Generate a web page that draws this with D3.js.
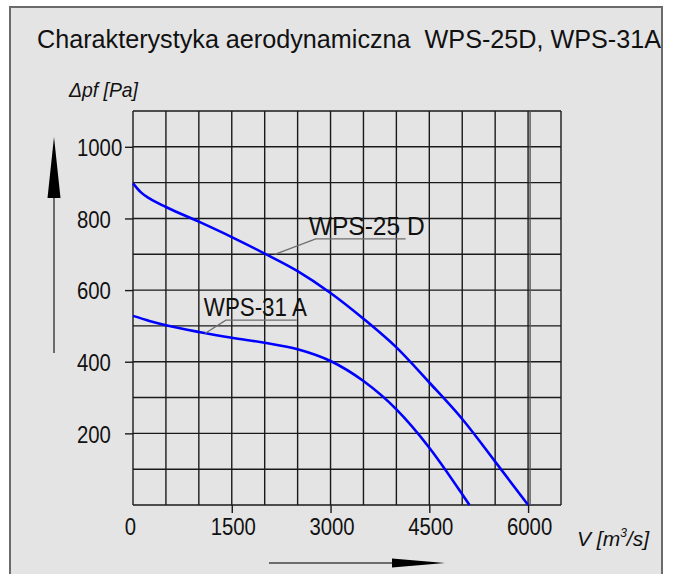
<!DOCTYPE html>
<html>
<head>
<meta charset="utf-8">
<title>Charakterystyka aerodynamiczna</title>
<script src="https://d3js.org/d3.v7.min.js"></script>
<style>
  body { margin: 0; background: #fff; }
  svg text { font-family: "Liberation Sans", Arial, sans-serif; fill: #111; }
</style>
</head>
<body>
<div id="chart"></div>
<script>
// wartosci
const flow25D  = [0, 125, 250, 500, 1000, 1500, 2000, 2500, 3000, 3500, 4000, 4500, 5000, 5500, 6000];
const press25D = [898, 872, 856, 832, 791, 748, 702, 653, 592, 520, 440, 342, 240, 121, 0];
const flow31A  = [0, 250, 500, 1000, 1500, 2000, 2500, 3000, 3500, 4000, 4500, 5000, 5110];
const press31A = [528, 514, 502, 483, 467, 453, 435, 402, 346, 267, 160, 30, 0];

const xTicks = [0, 1500, 3000, 4500, 6000];
const yTicks = [200, 400, 600, 800, 1000];
const curveNames = ["WPS-25 D", "WPS-31 A"];
// odnosniki: punkt na krzywej, zalamanie, koniec podkreslenia (w jednostkach wykresu)
const leader25D = [[2153, 700], [2775, 743], [4140, 743]];
const leader31A = [[1092, 479], [1410, 516], [2487, 516]];

function rysuj() {
  const W = 681, H = 574;
  const svg = d3.select("#chart").append("svg")
      .attr("width", W).attr("height", H);

  // ramka z szarym tlem
  svg.append("rect")
      .attr("x", 10).attr("y", 7)
      .attr("width", 652).attr("height", 620)
      .attr("fill", "#e4e4e4")
      .attr("stroke", "#6b6b6b").attr("stroke-width", 2);

  const x = d3.scaleLinear().domain([0, 6500]).range([133, 561]);
  const y = d3.scaleLinear().domain([0, 1100]).range([505, 111]);

  // siatka
  const grid = svg.append("g").attr("stroke", "#1a1a1a").attr("stroke-width", 1.4);
  grid.selectAll(".v").data(d3.range(0, 6501, 500)).enter().append("line")
      .attr("x1", d => x(d)).attr("x2", d => x(d))
      .attr("y1", y(1100)).attr("y2", y(0));
  grid.selectAll(".h").data(d3.range(0, 1101, 100)).enter().append("line")
      .attr("x1", x(0)).attr("x2", x(6500))
      .attr("y1", d => y(d)).attr("y2", d => y(d));
  // podwojna linia przy 6000
  grid.append("line")
      .attr("x1", x(6000) + 2).attr("x2", x(6000) + 2)
      .attr("y1", y(1100)).attr("y2", y(0))
      .attr("stroke", "#555");

  // osie
  const xAxis = d3.axisBottom(x).tickValues(xTicks).tickSize(8).tickSizeOuter(0).tickFormat(d => d);
  const yAxis = d3.axisLeft(y).tickValues(yTicks).tickSize(8).tickSizeOuter(0).tickFormat(d => d);

  const gx = svg.append("g").attr("transform", "translate(0," + y(0) + ")").call(xAxis);
  gx.select(".domain").remove();
  gx.selectAll(".tick line").attr("stroke", "#1a1a1a").attr("stroke-width", 1.4)
      .attr("opacity", d => d === 0 ? 0 : 1);
  gx.selectAll(".tick text").attr("font-size", "23px").attr("y", 30).attr("dy", 0)
      .attr("x", d => d === 0 ? -3 : 1)
      .attr("textLength", d => String(d).length * 11.3).attr("lengthAdjust", "spacingAndGlyphs")
      .attr("font-family", "Liberation Sans, Arial, sans-serif").attr("fill", "#111");

  const gy = svg.append("g").attr("transform", "translate(" + x(0) + ",0)").call(yAxis);
  gy.select(".domain").remove();
  gy.selectAll(".tick line").attr("stroke", "#1a1a1a").attr("stroke-width", 1.4);
  gy.selectAll(".tick text").attr("font-size", "23px")
      .attr("text-anchor", "start").attr("x", -56).attr("dy", "0.38em")
      .attr("textLength", d => String(d).length * 11.3).attr("lengthAdjust", "spacingAndGlyphs")
      .attr("font-family", "Liberation Sans, Arial, sans-serif").attr("fill", "#111");

  // krzywe
  const line = d3.line().x(d => x(d[0])).y(d => y(d[1])).curve(d3.curveMonotoneX);
  [[flow25D, press25D], [flow31A, press31A]].forEach(s => {
    svg.append("path")
        .datum(d3.zip(s[0], s[1]))
        .attr("d", line)
        .attr("fill", "none")
        .attr("stroke", "#0000ff")
        .attr("stroke-width", 2.6);
  });

  // opisy krzywych
  [leader25D, leader31A].forEach((pts, i) => {
    svg.append("path")
        .attr("d", d3.line().x(d => x(d[0])).y(d => y(d[1]))(pts))
        .attr("fill", "none").attr("stroke", "#6e6e6e").attr("stroke-width", 1.3);
    svg.append("text")
        .attr("x", x(pts[1][0]) - (i === 0 ? 7 : 22))
        .attr("y", y(pts[1][1]) - 4)
        .attr("font-size", "25px")
        .attr("textLength", i === 0 ? 116 : 103).attr("lengthAdjust", "spacingAndGlyphs")
        .text(curveNames[i]);
  });

  // tytul
  svg.append("text")
      .attr("x", 37).attr("y", 48)
      .attr("font-size", "26px")
      .style("white-space", "pre")
      .attr("textLength", 624).attr("lengthAdjust", "spacingAndGlyphs")
      .text("Charakterystyka aerodynamiczna  WPS-25D, WPS-31A");

  // opisy osi
  svg.append("text")
      .attr("x", 69).attr("y", 97)
      .attr("font-size", "21px").attr("font-style", "italic")
      .attr("textLength", 69).attr("lengthAdjust", "spacingAndGlyphs")
      .text("\u0394pf [Pa]");

  const vl = svg.append("text")
      .attr("x", 577).attr("y", 546)
      .attr("font-size", "21px").attr("font-style", "italic");
  vl.append("tspan").text("V [m");
  vl.append("tspan").attr("font-size", "12px").attr("dy", -9).text("3");
  vl.append("tspan").attr("dy", 9).text("/s]");

  // strzalki
  svg.append("line").attr("x1", 54).attr("x2", 54).attr("y1", 195).attr("y2", 353)
      .attr("stroke", "#444").attr("stroke-width", 1.5);
  svg.append("path").attr("d", "M54,137 L60.5,198 L47.5,198 Z").attr("fill", "#000");

  svg.append("line").attr("x1", 269).attr("x2", 395).attr("y1", 563).attr("y2", 563)
      .attr("stroke", "#444").attr("stroke-width", 1.5);
  svg.append("path").attr("d", "M445,563 L392,558.5 L392,567.5 Z").attr("fill", "#000");
}

rysuj();
</script>
</body>
</html>
